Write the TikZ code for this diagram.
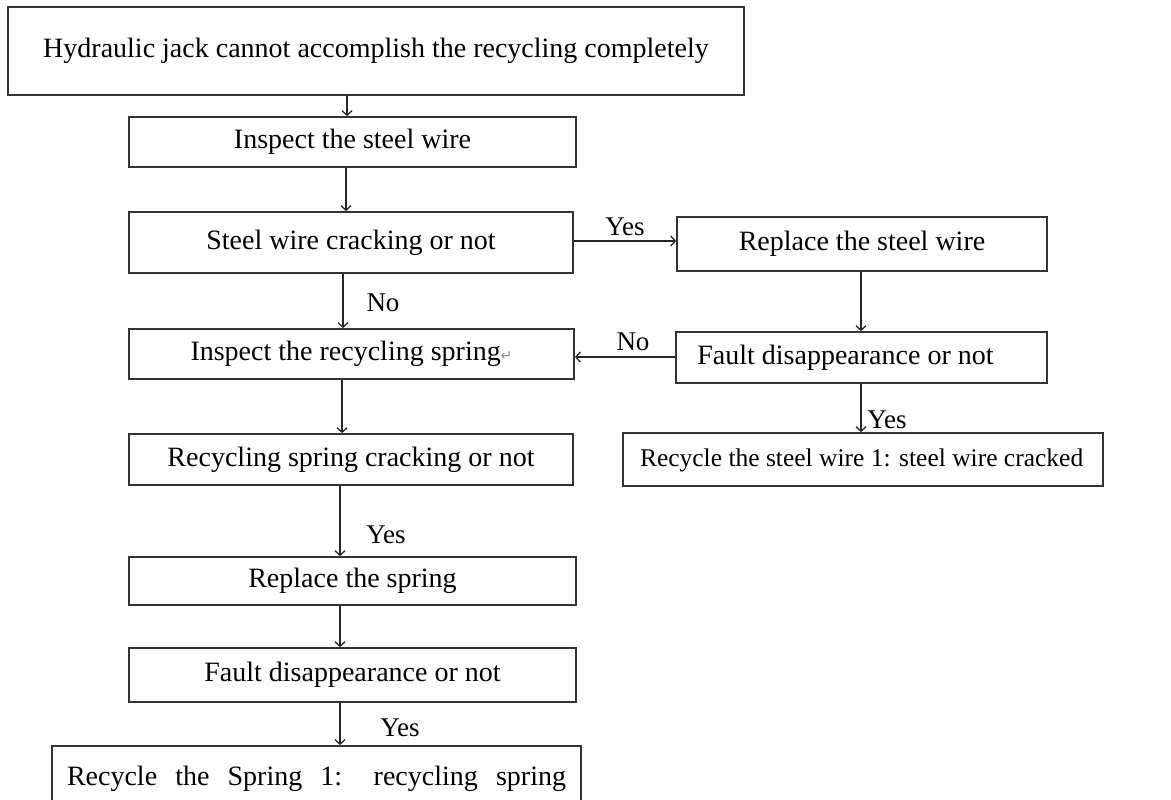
\documentclass[tikz,border=0pt]{standalone}
\usepackage{fontspec}
\setmainfont{Liberation Serif}
\newfontfamily\symfont{DejaVu Sans}
\usetikzlibrary{arrows.meta}
\begin{document}
\begin{tikzpicture}[x=1pt,y=-1pt,
  box/.style={draw=black!80,line width=1.8pt,inner sep=0pt,text height=19pt,text depth=6pt,
    font=\fontsize{28}{30}\selectfont},
  lbl/.style={font=\fontsize{27}{29}\selectfont,inner sep=0pt},
  arr/.style={line width=1.3pt,draw=black!85,-{Straight Barb[length=4.5pt,width=10pt,line width=1.3pt]}}]
\useasboundingbox (0,0) rectangle (1171,800);
\clip (0,0) rectangle (1171,800);
% left column
\node[box,minimum width=736pt,minimum height=88pt] (b1) at (376,51) {Hydraulic jack cannot accomplish the recycling completely};
\node[box,minimum width=447pt,minimum height=50pt] (b2) at (352.5,142) {Inspect the steel wire};
\node[box,minimum width=444pt,minimum height=61pt] (b3) at (351,242.5) {Steel wire cracking or not};
\node[box,minimum width=445pt,minimum height=50pt] (b5) at (351.5,354) {Inspect the recycling spring{\symfont\fontsize{14}{14}\selectfont\color{black!45}↵}};
\node[box,minimum width=444pt,minimum height=51pt] (b8) at (351,459.5) {Recycling spring cracking or not};
\node[box,minimum width=447pt,minimum height=48pt] (b9) at (352.5,581) {Replace the spring};
\node[box,minimum width=447pt,minimum height=54pt] (b10) at (352.5,675) {Fault disappearance or not};
\node[box,anchor=north,minimum width=529pt,inner ysep=20pt,text height=20pt,text depth=25pt] (b11) at (316.5,745)
  {\makebox[499pt][s]{Recycle the Spring 1: recycling spring}};
% right column
\node[box,minimum width=370pt,minimum height=54pt] (b4) at (862,244) {Replace the steel wire};
\node[box,minimum width=371pt,minimum height=51pt] (b6) at (861.5,357.5) {\hspace*{-32pt}Fault disappearance or not};
\node[box,minimum width=480pt,minimum height=53pt,font=\fontsize{25.5}{28}\selectfont] (b7) at (863,459.5)
  {\makebox[446pt][l]{Recycle the steel wire 1: steel wire cracked}};
% connectors
\draw[arr] (b1.south -| 347,0) -- (b2.north -| 347,0);
\draw[arr] (b2.south -| 346,0) -- (b3.north -| 346,0);
\draw[arr] (b3.south -| 343,0) -- (b5.north -| 343,0);
\draw[arr] (b5.south -| 342,0) -- (b8.north -| 342,0);
\draw[arr] (b8.south -| 340,0) -- (b9.north -| 340,0);
\draw[arr] (b9.south -| 340,0) -- (b10.north -| 340,0);
\draw[arr] (b10.south -| 340,0) -- (b11.north -| 340,0);
\draw[arr] (b3.east |- 0,241) -- (b4.west |- 0,241);
\draw[arr] (b4.south -| 861,0) -- (b6.north -| 861,0);
\draw[arr] (b6.west |- 0,357) -- (b5.east |- 0,357);
\draw[arr] (b6.south -| 861,0) -- (b7.north -| 861,0);
% labels
\node[lbl] (l1) at (625,227) {Yes};
\node[lbl] (l2) at (383,303) {No};
\node[lbl] (l3) at (633,342) {No};
\node[lbl] (l4) at (887,420) {Yes};
\node[lbl] (l5) at (386,535) {Yes};
\node[lbl] (l6) at (400,728) {Yes};
\end{tikzpicture}
\end{document}
